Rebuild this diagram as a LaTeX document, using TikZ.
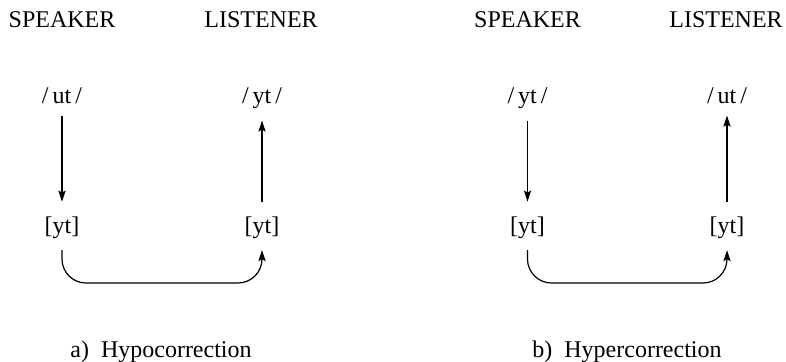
\documentclass[tikz,border=0pt]{standalone}
\usepackage{fontspec}
\setmainfont{Liberation Serif}
\usetikzlibrary{arrows.meta}
\begin{document}
\begin{tikzpicture}[x=0.5pt,y=-0.5pt,
  lbl/.style={font=\fontsize{12}{14}\selectfont, inner sep=0pt, anchor=base},
  arr/.style={line width=0.6pt, -{Stealth[length=5.5pt,width=3.6pt,inset=1pt]}},
  curv/.style={arr, rounded corners=12pt}]
\useasboundingbox (0,0) rectangle (786,361);
% panel a
\node[lbl] (sa) at (62,27.3) {SPEAKER};
\node[lbl] (la) at (261,27.3) {LISTENER};
\node[lbl] (ua) at (62,103) {/\,ut\,/};
\node[lbl] (ya) at (262,103) {/\,yt\,/};
\node[lbl] (sya) at (62,233.6) {[yt]};
\node[lbl] (lya) at (262,233.6) {[yt]};
\node[lbl] (ca) at (161,357) {a)\enspace Hypocorrection};
\coordinate (ba) at (62,283);
\draw[arr, shorten <=6pt, shorten >=7.5pt] (ua.south) -- (ua.south |- sya.north);
\draw[arr, shorten <=7.5pt, shorten >=6pt] (lya.north) -- (lya.north |- ya.south);
\draw[curv, shorten <=5.5pt, shorten >=5.5pt] (sya.south) -- (ba) -| (lya.south);
% panel b
\node[lbl] (sb) at (527.5,27.3) {SPEAKER};
\node[lbl] (lb) at (726,27.3) {LISTENER};
\node[lbl] (yb) at (527.5,103) {/\,yt\,/};
\node[lbl] (ub) at (727,103) {/\,ut\,/};
\node[lbl] (syb) at (527.5,233.6) {[yt]};
\node[lbl] (lyb) at (727,233.6) {[yt]};
\node[lbl] (cb) at (627,357) {b)\enspace Hypercorrection};
\coordinate (bb) at (527.5,283);
\draw[arr, shorten <=6pt, shorten >=7.5pt] (yb.south) -- (yb.south |- syb.north);
\draw[arr, shorten <=7.5pt, shorten >=6pt] (lyb.north) -- (lyb.north |- ub.south);
\draw[curv, shorten <=5.5pt, shorten >=5.5pt] (syb.south) -- (bb) -| (lyb.south);
\end{tikzpicture}
\end{document}
